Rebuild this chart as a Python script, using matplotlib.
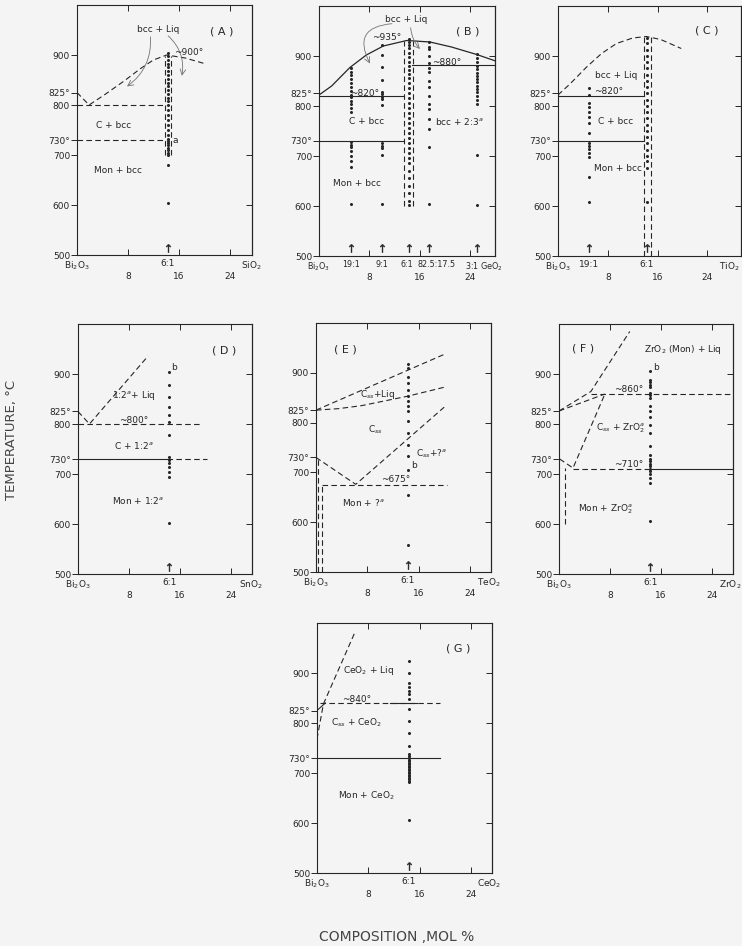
import matplotlib
matplotlib.use("Agg")
import matplotlib.pyplot as plt

# ---- shared axis values ----
temp_ticks = [500, 600, 700, 730, 800, 825, 900]
temp_labels = ["500", "600", "700", "730°", "800", "825°", "900"]
comp_ticks = [8, 16, 24]
six_one = 14.29

# ---- (A) Bi2O3-SiO2 ----
A_liq_x = [0, 1.9, 4.5, 7.4, 10.0, 12.0, 14.1, 17.0, 20.0]
A_liq_t = [825, 800, 822, 848, 873, 890, 900, 894, 883]
A_dots = [905, 898, 890, 883, 876, 868, 860, 853, 845, 838, 830, 822, 815, 808, 800,
          790, 780, 770, 760, 750, 740, 733, 728, 724, 720, 715, 710, 705, 700, 680, 605]

# ---- (B) Bi2O3-GeO2 ----
B_liq_x = [0, 2.0, 4.9, 7.5, 10.2, 13.9, 17.6, 21.0, 25.0, 28.0]
B_liq_t = [822, 840, 877, 902, 920, 931, 928, 918, 903, 890]
B_comp = [5.0, 10.0, six_one, 17.5, 25.0]
B_dots = [
    [876, 868, 861, 853, 845, 838, 830, 822, 817, 810, 803, 795, 787,
     727, 722, 717, 710, 700, 690, 678, 603],
    [922, 902, 877, 851, 828, 823, 818, 814, 801, 725, 720, 715, 701, 603],
    [933, 928, 922, 915, 905, 897, 888, 880, 872, 863, 855, 845, 835, 825, 815, 805,
     795, 785, 775, 765, 755, 745, 735, 725, 715, 705, 695, 685, 670, 655, 640, 625, 610, 602],
    [927, 917, 913, 900, 886, 876, 867, 850, 837, 820, 803, 793, 773, 753, 718, 603],
    [903, 895, 888, 880, 873, 866, 860, 853, 847, 840, 834, 827, 820, 812, 803, 702, 602],
]

# ---- (C) Bi2O3-TiO2 ----
C_liq_x = [0, 2.0, 4.6, 7.0, 9.4, 12.0, 14.2, 16.5, 19.8]
C_liq_t = [822, 845, 878, 905, 925, 936, 939, 933, 915]
C_comp = [5.0, six_one]
C_dots = [
    [835, 821, 805, 797, 787, 777, 765, 745, 725, 720, 713, 705, 697, 657, 607],
    [935, 925, 912, 900, 888, 875, 862, 850, 838, 825, 812, 800, 788, 775, 762,
     750, 737, 725, 712, 700, 690, 675, 607],
]

# ---- (D) Bi2O3-SnO2 ----
D_liq_x = [0, 1.8, 11.0]
D_liq_t = [825, 800, 936]
D_dots = [903, 878, 853, 833, 818, 803, 778, 733, 728, 721, 713, 703, 693, 603]

# ---- (E) Bi2O3-TeO2 ----
E_top_x = [0, 20.0]
E_top_t = [825, 937]
E_mid_x = [0, 3.5, 7.1, 10.5, 14.3, 20.0]
E_mid_t = [825, 828, 834, 843, 853, 871]
E_solvus_x = [0, 6.2, 20.0]
E_solvus_t = [730, 676, 831]
E_dots = [917, 910, 892, 879, 865, 853, 843, 833, 823, 803, 780, 755, 732, 705, 655, 555]

# ---- (F) Bi2O3-ZrO2 ----
F_liq_x = [0, 5.0, 11.1]
F_liq_t = [826, 865, 985]
F_guide_x = [0, 7.2]
F_guide_t = [826, 860]
F_low_x = [0.1, 2.2, 7.2]
F_low_t = [730, 712, 860]
F_dots = [906, 888, 883, 878, 873, 861, 857, 851, 835, 825, 813, 798, 781, 756, 738,
          729, 725, 720, 715, 710, 706, 700, 691, 681, 606]

# ---- (G) Bi2O3-CeO2 ----
G_liq_x = [0, 1.0, 5.9]
G_liq_t = [768, 838, 981]
G_short_x = [0, 1.3]
G_short_t = [825, 840]
G_dots = [925, 900, 881, 873, 865, 858, 849, 829, 805, 780, 755, 738, 734, 730, 727,
          724, 721, 718, 715, 712, 709, 706, 703, 700, 697, 694, 691, 688, 685, 683, 606]

BG = "#f4f4f4"
INK = "#262626"
DASH = (0, (5, 3))
W, H = 742, 946
FS = 6.5

fig = plt.figure(figsize=(W / 100, H / 100), dpi=100, facecolor=BG)


def panel(l, t, r, b, xmax, first_row, row_size=FS):
    ax = fig.add_axes([l / W, 1 - b / H, (r - l) / W, (b - t) / H])
    ax.set_facecolor(BG)
    ax.set_xlim(0, xmax)
    ax.set_ylim(500, 1000)
    for s in ax.spines.values():
        s.set_linewidth(0.8)
        s.set_color(INK)
    ax.set_yticks(temp_ticks, temp_labels)
    ax.tick_params(axis="y", direction="out", length=4, width=0.7, pad=1,
                   labelsize=FS, color=INK, labelcolor=INK)
    sec = ax.secondary_yaxis("right")
    sec.set_yticks([600, 700, 800, 900], labels=[])
    sec.tick_params(direction="in", length=4, width=0.7, color=INK)
    sec.spines["right"].set_linewidth(0.8)
    ax.set_xticks(comp_ticks, [str(c) for c in comp_ticks])
    ax.tick_params(axis="x", which="major", direction="in", top=True, length=4,
                   width=0.7, pad=12, labelsize=FS, color=INK, labelcolor=INK)
    pos = [p for p, _ in first_row]
    labs = [s for _, s in first_row]
    ax.set_xticks(pos, labs, minor=True)
    ax.tick_params(axis="x", which="minor", length=0, pad=3, labelsize=row_size,
                   labelcolor=INK)
    return ax


def dots(ax, x, temps, arrow=True):
    ax.plot([x] * len(temps), temps, "o", color=INK, ms=2.2, mec="none")
    if arrow:
        ax.plot([x], [515], marker=r"$\uparrow$", color=INK, ms=6, mew=0.3)


def txt(ax, x, y, s, size=FS):
    ax.text(x, y, s, fontsize=size, color=INK, ha="center", va="center")


def hline(ax, t, x0, x1, dashed=False):
    ax.plot([x0, x1], [t, t], color=INK, lw=0.8, ls=DASH if dashed else "-")


def vline(ax, x, t0, t1):
    ax.plot([x, x], [t0, t1], color=INK, lw=0.8, ls=DASH)


curve = dict(arrowstyle="->", color="0.45", lw=0.6)

# ---------------- (A) ----------------
ax = panel(77, 5, 252, 255, 27.5,
           [(0, "Bi$_2$O$_3$"), (six_one, "6:1"), (27.4, "SiO$_2$")])
ax.plot(A_liq_x, A_liq_t, color=INK, lw=0.8, ls=DASH)
hline(ax, 800, 0, 14.0, True)
hline(ax, 730, 0, 14.0, True)
vline(ax, 13.8, 700, 898)
vline(ax, 14.7, 700, 898)
dots(ax, six_one, A_dots)
txt(ax, 12.8, 952, "bcc + Liq")
ax.annotate("", xy=(7.5, 834), xytext=(11.5, 942),
            arrowprops=dict(curve, connectionstyle="arc3,rad=-0.3"))
ax.annotate("", xy=(16.4, 853), xytext=(14.0, 942),
            arrowprops=dict(curve, connectionstyle="arc3,rad=-0.3"))
txt(ax, 17.5, 905, "~900°")
txt(ax, 15.4, 730, "a")
txt(ax, 5.7, 760, "C + bcc")
txt(ax, 6.5, 670, "Mon + bcc")
txt(ax, 22.8, 948, "( A )", 8)

# ---------------- (B) ----------------
ax = panel(319, 6, 495, 256, 27.9,
           [(0, "Bi$_2$O$_3$"), (5.0, "19:1"), (10.0, "9:1"), (13.9, "6:1"),
            (18.6, "82.5:17.5"), (26.1, "3:1 GeO$_2$")], row_size=5.8)
ax.plot(B_liq_x, B_liq_t, color=INK, lw=0.9)
hline(ax, 820, 0, 13.5)
hline(ax, 730, 0, 13.5)
hline(ax, 881, 14.7, 27.9)
vline(ax, 13.5, 600, 930)
vline(ax, 14.9, 600, 930)
for x, temps in zip(B_comp, B_dots):
    dots(ax, x, temps)
txt(ax, 13.9, 972, "bcc + Liq")
ax.annotate("", xy=(8.3, 880), xytext=(12.0, 965),
            arrowprops=dict(curve, connectionstyle="arc3,rad=0.8"))
ax.annotate("", xy=(16.3, 910), xytext=(14.5, 962),
            arrowprops=dict(curve, connectionstyle="arc3,rad=0.2"))
txt(ax, 10.7, 938, "~935°")
txt(ax, 20.2, 887, "~880°")
txt(ax, 7.3, 825, "~820°")
txt(ax, 7.5, 769, "C + bcc")
txt(ax, 22.3, 769, "bcc + 2:3$^a$")
txt(ax, 6.0, 645, "Mon + bcc")
txt(ax, 23.6, 950, "( B )", 8)

# ---------------- (C) ----------------
ax = panel(558, 6, 741, 256, 29.4,
           [(0, "Bi$_2$O$_3$"), (5.0, "19:1"), (six_one, "6:1"), (27.6, "TiO$_2$")])
ax.plot(C_liq_x, C_liq_t, color=INK, lw=0.8, ls=DASH)
hline(ax, 820, 0, 13.8)
hline(ax, 730, 0, 13.8)
vline(ax, 13.8, 500, 938)
vline(ax, 14.9, 500, 938)
for x, temps in zip(C_comp, C_dots):
    dots(ax, x, temps)
txt(ax, 9.4, 862, "bcc + Liq")
txt(ax, 8.2, 828, "~820°")
txt(ax, 9.3, 770, "C + bcc")
txt(ax, 9.6, 675, "Mon + bcc")
txt(ax, 23.9, 951, "( C )", 8)

# ---------------- (D) ----------------
ax = panel(78, 324, 252, 574, 27.3,
           [(0, "Bi$_2$O$_3$"), (six_one, "6:1"), (27.2, "SnO$_2$")])
ax.plot(D_liq_x, D_liq_t, color=INK, lw=0.8, ls=DASH)
hline(ax, 800, 0, 19.5, True)
hline(ax, 730, 0, 14.0)
hline(ax, 730, 14.0, 20.2, True)
dots(ax, six_one, D_dots)
txt(ax, 15.0, 913, "b")
txt(ax, 8.8, 856, "1:2$^a$+ Liq")
txt(ax, 8.8, 807, "~800°")
txt(ax, 8.8, 758, "C + 1:2$^a$")
txt(ax, 9.4, 648, "Mon + 1:2$^a$")
txt(ax, 22.9, 947, "( D )", 8)

# ---------------- (E) ----------------
ax = panel(316, 323, 491, 572, 27.3,
           [(0, "Bi$_2$O$_3$"), (six_one, "6:1"), (27.0, "TeO$_2$")])
ax.plot(E_top_x, E_top_t, color=INK, lw=0.8, ls=DASH)
ax.plot(E_mid_x, E_mid_t, color=INK, lw=0.8, ls=DASH)
ax.plot(E_solvus_x, E_solvus_t, color=INK, lw=0.8, ls=DASH)
hline(ax, 675, 0.9, 20.4, True)
vline(ax, 0.3, 500, 728)
vline(ax, 0.9, 500, 675)
dots(ax, six_one, E_dots)
txt(ax, 15.3, 713, "b")
txt(ax, 4.6, 947, "( E )", 8)
txt(ax, 9.6, 856, "C$_{ss}$+Liq")
txt(ax, 9.2, 785, "C$_{ss}$")
txt(ax, 18.0, 738, "C$_{ss}$+?$^a$")
txt(ax, 12.5, 686, "~675°")
txt(ax, 7.4, 640, "Mon + ?$^a$")

# ---------------- (F) ----------------
ax = panel(559, 324, 733, 574, 27.3,
           [(0, "Bi$_2$O$_3$"), (six_one, "6:1"), (26.8, "ZrO$_2$")])
ax.plot(F_liq_x, F_liq_t, color=INK, lw=0.8, ls=DASH)
ax.plot(F_guide_x, F_guide_t, color=INK, lw=0.8, ls=DASH)
ax.plot(F_low_x, F_low_t, color=INK, lw=0.8, ls=DASH)
hline(ax, 860, 5.0, 27.3, True)
hline(ax, 710, 2.2, six_one, True)
hline(ax, 710, six_one, 27.3)
vline(ax, 0.9, 600, 711)
dots(ax, six_one, F_dots)
txt(ax, 15.2, 914, "b")
txt(ax, 3.8, 951, "( F )", 8)
txt(ax, 19.5, 950, "ZrO$_2$ (Mon) + Liq")
txt(ax, 10.9, 868, "~860°")
txt(ax, 9.6, 791, "C$_{ss}$ + ZrO$_2^a$")
txt(ax, 10.9, 720, "~710°")
txt(ax, 7.2, 630, "Mon + ZrO$_2^a$")

# ---------------- (G) ----------------
ax = panel(317, 623, 492, 873, 27.3,
           [(0, "Bi$_2$O$_3$"), (six_one, "6:1"), (26.8, "CeO$_2$")])
ax.plot(G_liq_x, G_liq_t, color=INK, lw=0.8, ls=DASH)
ax.plot(G_short_x, G_short_t, color=INK, lw=0.8)
hline(ax, 840, 0.5, 19.2, True)
hline(ax, 840, 11.4, 15.6)
hline(ax, 730, 0, 19.2)
dots(ax, six_one, G_dots)
txt(ax, 22.1, 950, "( G )", 8)
txt(ax, 8.0, 906, "CeO$_2$ + Liq")
txt(ax, 6.2, 848, "~840°")
txt(ax, 6.2, 800, "C$_{ss}$ + CeO$_2$")
txt(ax, 7.7, 654, "Mon + CeO$_2$")

fig.text(12 / W, 1 - 440 / H, "TEMPERATURE, °C", rotation=90, fontsize=9.5,
         color="#444", ha="center", va="center")
fig.text(397 / W, 1 - 937 / H, "COMPOSITION ,MOL %", fontsize=10,
         color="#444", ha="center", va="center")

fig.savefig("out.png", dpi=100, facecolor=BG)
